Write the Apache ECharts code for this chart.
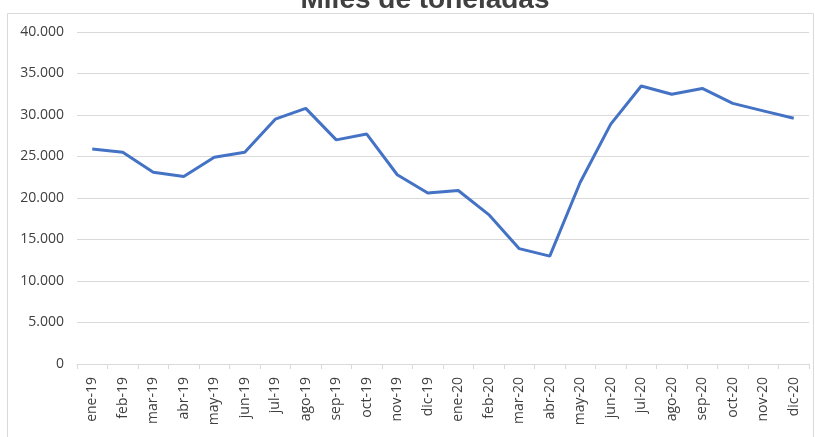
<!DOCTYPE html>
<html>
<head>
<meta charset="utf-8">
<script src="https://cdn.jsdelivr.net/npm/echarts@6/dist/echarts.min.js"></script>
<style>
  html, body { margin: 0; padding: 0; background: #fff; }
  #chart { width: 815px; height: 437px; }
</style>
</head>
<body>
<div id="chart"></div>
<script>
const months = [
  "ene-19", "feb-19", "mar-19", "abr-19", "may-19", "jun-19",
  "jul-19", "ago-19", "sep-19", "oct-19", "nov-19", "dic-19",
  "ene-20", "feb-20", "mar-20", "abr-20", "may-20", "jun-20",
  "jul-20", "ago-20", "sep-20", "oct-20", "nov-20", "dic-20"
];
const toneladas = [
  25900, 25500, 23100, 22600, 24900, 25500,
  29500, 30800, 27000, 27700, 22800, 20600,
  20900, 18000, 13900, 13000, 21900, 28900,
  33500, 32500, 33200, 31400, 30500, 29600
];
const titleText = "Miles de toneladas";

const chart = echarts.init(document.getElementById("chart"));

const fmt = (v) => v.toString().replace(/\B(?=(\d{3})+(?!\d))/g, ".");

chart.setOption({
  animation: false,
  title: {
    text: titleText,
    left: 420,
    textAlign: "center",
    top: -19,
    textStyle: {
      fontFamily: "Liberation Sans",
      fontSize: 28,
      fontWeight: "bold",
      color: "#404040"
    }
  },
  graphic: [
    {
      type: "rect",
      left: 5,
      top: 11,
      shape: { width: 806, height: 440 },
      style: { fill: "none", stroke: "#d9d9d9", lineWidth: 1 },
      z: -1
    }
  ],
  grid: {
    left: 77,
    right: 6,
    top: 32,
    bottom: 73
  },
  xAxis: {
    type: "category",
    data: months,
    boundaryGap: true,
    axisLine: { lineStyle: { color: "#d9d9d9", width: 1 } },
    axisTick: { show: true, length: 5, lineStyle: { color: "#d9d9d9" } },
    axisLabel: {
      rotate: 90,
      interval: 0,
      margin: 13,
      color: "#404040",
      fontFamily: "Open Sans",
      fontSize: 14
    }
  },
  yAxis: {
    type: "value",
    min: 0,
    max: 40000,
    interval: 5000,
    axisLine: { show: false },
    axisTick: { show: false },
    splitLine: { lineStyle: { color: "#d9d9d9", width: 1 } },
    axisLabel: {
      margin: 13,
      color: "#404040",
      fontFamily: "Open Sans",
      fontSize: 14,
      formatter: fmt
    }
  },
  series: [
    {
      type: "line",
      data: toneladas,
      showSymbol: false,
      lineStyle: { color: "#4472C4", width: 3 },
      itemStyle: { color: "#4472C4" }
    }
  ]
});
</script>
</body>
</html>
